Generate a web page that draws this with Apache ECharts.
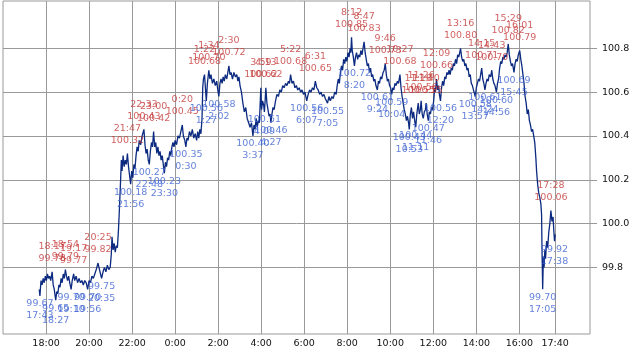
<!DOCTYPE html>
<html>
<head>
<meta charset="utf-8">
<script src="https://cdn.jsdelivr.net/npm/echarts@6/dist/echarts.min.js"></script>
<style>
  html, body { margin: 0; padding: 0; background: #fff; }
  #chart { width: 637px; height: 351px; }
</style>
</head>
<body>
<div id="chart"></div>
<script>
  // price ticks (time, price)
  var prices = [
    ['17:41', 99.70], ['17:43', 99.67], ['17:46', 99.74], ['17:49', 99.72], ['17:52', 99.75], ['17:55', 99.73],
    ['17:58', 99.76], ['18:01', 99.74], ['18:04', 99.77], ['18:07', 99.75], ['18:10', 99.76], ['18:13', 99.74],
    ['18:17', 99.78], ['18:20', 99.72], ['18:23', 99.70], ['18:27', 99.65], ['18:30', 99.69], ['18:33', 99.68],
    ['18:36', 99.72], ['18:39', 99.71], ['18:42', 99.75], ['18:45', 99.73], ['18:48', 99.77], ['18:51', 99.75],
    ['18:54', 99.79], ['18:57', 99.76], ['19:00', 99.74], ['19:03', 99.76], ['19:06', 99.73], ['19:10', 99.70],
    ['19:13', 99.74], ['19:17', 99.77], ['19:20', 99.74], ['19:24', 99.76], ['19:28', 99.73], ['19:32', 99.75],
    ['19:36', 99.73], ['19:40', 99.74], ['19:44', 99.72], ['19:48', 99.74], ['19:52', 99.73], ['19:56', 99.70],
    ['20:00', 99.74], ['20:04', 99.73], ['20:08', 99.76], ['20:12', 99.75], ['20:16', 99.77], ['20:20', 99.79],
    ['20:25', 99.82], ['20:29', 99.79], ['20:32', 99.77], ['20:35', 99.75], ['20:39', 99.78], ['20:43', 99.80],
    ['20:47', 99.78], ['20:51', 99.81], ['20:55', 99.79], ['20:59', 99.80], ['21:02', 99.86], ['21:04', 99.94],
    ['21:07', 99.88], ['21:10', 99.91], ['21:13', 99.87], ['21:16', 99.90], ['21:19', 99.89], ['21:22', 99.97],
    ['21:25', 100.08], ['21:28', 100.20], ['21:30', 100.29], ['21:32', 100.24], ['21:35', 100.31], ['21:38', 100.26],
    ['21:41', 100.29], ['21:44', 100.27], ['21:47', 100.32], ['21:50', 100.26], ['21:53', 100.22], ['21:56', 100.18],
    ['21:59', 100.24], ['22:02', 100.21], ['22:05', 100.27], ['22:08', 100.25], ['22:11', 100.31], ['22:14', 100.35],
    ['22:17', 100.33], ['22:20', 100.38], ['22:24', 100.36], ['22:28', 100.40], ['22:33', 100.43], ['22:36', 100.36],
    ['22:39', 100.32], ['22:42', 100.34], ['22:45', 100.29], ['22:48', 100.27], ['22:51', 100.33], ['22:54', 100.37],
    ['22:57', 100.35], ['23:00', 100.42], ['23:03', 100.35], ['23:06', 100.37], ['23:09', 100.32], ['23:12', 100.35],
    ['23:15', 100.31], ['23:18', 100.33], ['23:21', 100.29], ['23:24', 100.31], ['23:27', 100.27], ['23:30', 100.23],
    ['23:33', 100.28], ['23:36', 100.26], ['23:39', 100.30], ['23:42', 100.29], ['23:45', 100.33], ['23:48', 100.31],
    ['23:51', 100.35], ['23:54', 100.37], ['23:57', 100.35], ['0:00', 100.38], ['0:04', 100.36], ['0:08', 100.40],
    ['0:12', 100.39], ['0:16', 100.42], ['0:20', 100.45], ['0:23', 100.40], ['0:27', 100.38], ['0:30', 100.35],
    ['0:33', 100.39], ['0:36', 100.38], ['0:40', 100.42], ['0:44', 100.40], ['0:48', 100.43], ['0:52', 100.39],
    ['0:56', 100.41], ['1:00', 100.38], ['1:03', 100.42], ['1:06', 100.39], ['1:09', 100.43], ['1:12', 100.41],
    ['1:15', 100.48], ['1:17', 100.62], ['1:19', 100.66], ['1:22', 100.68], ['1:24', 100.63], ['1:27', 100.56],
    ['1:30', 100.64], ['1:34', 100.70], ['1:37', 100.66], ['1:40', 100.68], ['1:44', 100.64], ['1:48', 100.66],
    ['1:52', 100.63], ['1:56', 100.65], ['1:59', 100.61], ['2:02', 100.58], ['2:05', 100.64], ['2:08', 100.66],
    ['2:11', 100.64], ['2:14', 100.67], ['2:17', 100.65], ['2:20', 100.68], ['2:24', 100.66], ['2:27', 100.69],
    ['2:30', 100.72], ['2:33', 100.68], ['2:36', 100.69], ['2:40', 100.66], ['2:44', 100.69], ['2:48', 100.67],
    ['2:52', 100.68], ['2:55', 100.65], ['2:58', 100.67], ['3:01', 100.63], ['3:05', 100.60], ['3:09', 100.55],
    ['3:13', 100.51], ['3:17', 100.53], ['3:21', 100.48], ['3:25', 100.46], ['3:29', 100.44], ['3:33', 100.46],
    ['3:37', 100.40], ['3:40', 100.45], ['3:43', 100.43], ['3:46', 100.48], ['3:49', 100.44], ['3:52', 100.47],
    ['3:55', 100.46], ['3:59', 100.62], ['4:01', 100.52], ['4:04', 100.56], ['4:07', 100.54], ['4:09', 100.51],
    ['4:11', 100.56], ['4:13', 100.62], ['4:16', 100.55], ['4:19', 100.52], ['4:22', 100.49], ['4:25', 100.50],
    ['4:27', 100.46], ['4:30', 100.50], ['4:33', 100.53], ['4:36', 100.52], ['4:40', 100.56], ['4:44', 100.59],
    ['4:48', 100.58], ['4:52', 100.61], ['4:56', 100.60], ['5:00', 100.63], ['5:04', 100.62], ['5:08', 100.64],
    ['5:12', 100.63], ['5:16', 100.65], ['5:19', 100.64], ['5:22', 100.68], ['5:26', 100.64], ['5:30', 100.65],
    ['5:34', 100.62], ['5:38', 100.63], ['5:42', 100.61], ['5:46', 100.62], ['5:50', 100.60], ['5:54', 100.61],
    ['5:58', 100.59], ['6:02', 100.60], ['6:07', 100.56], ['6:11', 100.59], ['6:15', 100.61], ['6:19', 100.60],
    ['6:23', 100.62], ['6:27', 100.61], ['6:31', 100.65], ['6:35', 100.62], ['6:39', 100.61], ['6:43', 100.59],
    ['6:47', 100.60], ['6:51', 100.58], ['6:55', 100.59], ['6:59', 100.57], ['7:05', 100.55], ['7:09', 100.58],
    ['7:13', 100.56], ['7:17', 100.58], ['7:21', 100.57], ['7:25', 100.60], ['7:29', 100.59], ['7:32', 100.63],
    ['7:35', 100.66], ['7:38', 100.64], ['7:41', 100.69], ['7:44', 100.72], ['7:47', 100.70], ['7:50', 100.75],
    ['7:53', 100.73], ['7:56', 100.76], ['7:59', 100.74], ['8:02', 100.78], ['8:05', 100.76], ['8:08', 100.80],
    ['8:10', 100.78], ['8:12', 100.85], ['8:14', 100.79], ['8:17', 100.76], ['8:20', 100.72], ['8:23', 100.76],
    ['8:26', 100.78], ['8:29', 100.75], ['8:32', 100.77], ['8:35', 100.76], ['8:38', 100.79], ['8:41', 100.77],
    ['8:44', 100.80], ['8:47', 100.83], ['8:50', 100.78], ['8:53', 100.75], ['8:56', 100.72], ['8:59', 100.73],
    ['9:02', 100.69], ['9:05', 100.71], ['9:08', 100.67], ['9:11', 100.68], ['9:14', 100.65], ['9:17', 100.66],
    ['9:20', 100.63], ['9:24', 100.61], ['9:27', 100.65], ['9:30', 100.64], ['9:33', 100.67], ['9:36', 100.66],
    ['9:40', 100.69], ['9:43', 100.70], ['9:46', 100.73], ['9:49', 100.68], ['9:52', 100.65], ['9:55', 100.66],
    ['9:58', 100.63], ['10:01', 100.62], ['10:04', 100.59], ['10:07', 100.62], ['10:10', 100.61], ['10:13', 100.64],
    ['10:16', 100.63], ['10:20', 100.65], ['10:23', 100.64], ['10:27', 100.68], ['10:30', 100.62], ['10:33', 100.58],
    ['10:36', 100.55], ['10:39', 100.52], ['10:42', 100.50], ['10:45', 100.47], ['10:48', 100.49], ['10:51', 100.46],
    ['10:53', 100.43], ['10:56', 100.50], ['10:59', 100.53], ['11:02', 100.48], ['11:05', 100.51], ['11:08', 100.47],
    ['11:11', 100.44], ['11:14', 100.50], ['11:18', 100.55], ['11:21', 100.50], ['11:24', 100.52], ['11:26', 100.56],
    ['11:29', 100.50], ['11:32', 100.48], ['11:35', 100.51], ['11:38', 100.52], ['11:40', 100.55], ['11:43', 100.50],
    ['11:46', 100.47], ['11:49', 100.51], ['11:52', 100.50], ['11:55', 100.53], ['11:58', 100.52], ['12:01', 100.56],
    ['12:04', 100.62], ['12:06', 100.60], ['12:09', 100.66], ['12:12', 100.61], ['12:15', 100.63], ['12:17', 100.59],
    ['12:20', 100.56], ['12:23', 100.62], ['12:26', 100.65], ['12:29', 100.63], ['12:32', 100.67], ['12:35', 100.66],
    ['12:38', 100.69], ['12:41', 100.68], ['12:44', 100.70], ['12:47', 100.68], ['12:50', 100.71], ['12:53', 100.70],
    ['12:56', 100.73], ['12:59', 100.72], ['13:02', 100.75], ['13:05', 100.73], ['13:08', 100.77], ['13:11', 100.76],
    ['13:16', 100.80], ['13:19', 100.76], ['13:22', 100.74], ['13:25', 100.75], ['13:28', 100.72], ['13:31', 100.73],
    ['13:34', 100.70], ['13:37', 100.71], ['13:40', 100.67], ['13:43', 100.68], ['13:46', 100.64], ['13:49', 100.63],
    ['13:52', 100.61], ['13:57', 100.58], ['14:00', 100.62], ['14:03', 100.64], ['14:06', 100.66], ['14:09', 100.65],
    ['14:12', 100.68], ['14:15', 100.71], ['14:18', 100.66], ['14:21', 100.64], ['14:24', 100.61], ['14:27', 100.64],
    ['14:30', 100.66], ['14:33', 100.65], ['14:36', 100.68], ['14:40', 100.67], ['14:43', 100.70], ['14:46', 100.66],
    ['14:49', 100.64], ['14:52', 100.63], ['14:56', 100.60], ['14:59', 100.64], ['15:02', 100.66], ['15:05', 100.71],
    ['15:08', 100.74], ['15:11', 100.73], ['15:14', 100.76], ['15:17', 100.75], ['15:20', 100.77], ['15:23', 100.76],
    ['15:26', 100.78], ['15:29', 100.82], ['15:32', 100.77], ['15:35', 100.74], ['15:38', 100.72], ['15:41', 100.73],
    ['15:45', 100.69], ['15:48', 100.73], ['15:51', 100.75], ['15:54', 100.74], ['15:57', 100.77], ['16:01', 100.79],
    ['16:04', 100.75], ['16:07', 100.72], ['16:10', 100.68], ['16:13', 100.64], ['16:16', 100.58], ['16:19', 100.55],
    ['16:22', 100.50], ['16:25', 100.52], ['16:28', 100.47], ['16:31', 100.45], ['16:34', 100.42], ['16:37', 100.43],
    ['16:40', 100.40], ['16:43', 100.37], ['16:46', 100.30], ['16:48', 100.24], ['16:51', 100.18], ['16:54', 100.14],
    ['16:57', 100.12], ['17:00', 100.09], ['17:02', 100.04], ['17:03', 99.90], ['17:05', 99.70], ['17:07', 99.85],
    ['17:09', 99.80], ['17:11', 99.88], ['17:13', 99.84], ['17:16', 99.92], ['17:19', 99.89], ['17:22', 99.96],
    ['17:25', 100.00], ['17:28', 100.06], ['17:31', 100.01], ['17:34', 100.03], ['17:36', 99.97], ['17:38', 99.92],
    ['17:40', 99.95]
  ];

  // annotated local highs and lows (time, price)
  var highs = [
    ['18:17', 99.78], ['18:54', 99.79], ['19:17', 99.77], ['20:25', 99.82], ['21:47', 100.32], ['22:33', 100.43],
    ['23:00', 100.42], ['0:20', 100.45], ['1:22', 100.68], ['1:34', 100.70], ['2:30', 100.72], ['3:59', 100.62],
    ['4:13', 100.62], ['5:22', 100.68], ['6:31', 100.65], ['8:12', 100.85], ['8:47', 100.83], ['9:46', 100.73],
    ['10:27', 100.68], ['11:18', 100.55], ['11:26', 100.56], ['11:40', 100.55], ['12:09', 100.66], ['13:16', 100.80],
    ['14:15', 100.71], ['14:43', 100.70], ['15:29', 100.82], ['16:01', 100.79], ['17:28', 100.06]
  ];
  var lows = [
    ['17:43', 99.67], ['18:27', 99.65], ['19:10', 99.70], ['19:56', 99.70], ['20:35', 99.75], ['21:56', 100.18],
    ['22:48', 100.27], ['23:30', 100.23], ['0:30', 100.35], ['1:27', 100.56], ['2:02', 100.58], ['3:37', 100.40],
    ['4:09', 100.51], ['4:27', 100.46], ['6:07', 100.56], ['7:05', 100.55], ['8:20', 100.72], ['9:24', 100.61],
    ['10:04', 100.59], ['10:53', 100.43], ['11:11', 100.44], ['11:46', 100.47], ['12:20', 100.56], ['13:57', 100.58],
    ['14:24', 100.61], ['14:56', 100.60], ['15:45', 100.69], ['17:05', 99.70], ['17:38', 99.92]
  ];

  var xTicks = ['18:00', '20:00', '22:00', '0:00', '2:00', '4:00', '6:00', '8:00', '10:00', '12:00', '14:00', '16:00', '17:40'];
  var yTicks = [99.8, 100.0, 100.2, 100.4, 100.6, 100.8];

  // minutes since midnight of the first day; the session starts 17:41
  function toMinutes(s) {
    var p = s.split(':');
    var m = parseInt(p[0]) * 60 + parseInt(p[1]);
    return m < 17 * 60 + 41 ? m + 1440 : m;
  }
  function fmtTime(v) {
    var h = Math.floor(v / 60) % 24;
    var m = Math.round(v % 60);
    return h + ':' + (m < 10 ? '0' : '') + m;
  }

  var font = 'DejaVu Sans';
  var chart = echarts.init(document.getElementById('chart'));

  chart.setOption({
    animation: false,
    backgroundColor: '#fff',
    grid: { left: 3, right: 47, top: 1, bottom: 17, show: true, borderColor: '#999', borderWidth: 1 },
    xAxis: {
      type: 'value',
      min: 960,
      max: 2597,
      axisLine: { show: false },
      axisTick: { show: false, customValues: xTicks.map(toMinutes) },
      axisLabel: {
        customValues: xTicks.map(toMinutes),
        formatter: fmtTime,
        color: '#111', fontFamily: font, fontSize: 9.5, margin: 5
      },
      splitLine: { show: true, lineStyle: { color: '#999', width: 1 } }
    },
    yAxis: {
      type: 'value',
      position: 'right',
      min: 99.496,
      max: 101.016,
      axisLine: { show: false },
      axisTick: { show: true, customValues: yTicks, length: 7, lineStyle: { color: '#999' } },
      axisLabel: {
        customValues: yTicks,
        formatter: function (v) { return v.toFixed(1) },
        color: '#111', fontFamily: font, fontSize: 9.5, margin: 12
      },
      splitLine: { show: true, lineStyle: { color: '#999', width: 1 } }
    },
    series: [
      {
        type: 'line',
        data: prices.map(function (p) { return [toMinutes(p[0]), p[1]] }),
        symbol: 'none',
        lineStyle: { color: '#0b2a80', width: 1.3 },
        z: 2
      },
      {
        type: 'scatter',
        data: highs.map(function (h) { return { name: h[0], value: [toMinutes(h[0]), h[1]] } }),
        symbolSize: 0,
        z: 3,
        label: {
          show: true, position: 'top', distance: 7,
          formatter: function (p) { return p.name + '\n' + p.value[1].toFixed(2) },
          color: '#c43a3a', fontFamily: font, fontSize: 9.5, lineHeight: 12
        }
      },
      {
        type: 'scatter',
        data: lows.map(function (l) { return { name: l[0], value: [toMinutes(l[0]), l[1]] } }),
        symbolSize: 0,
        z: 3,
        label: {
          show: true, position: 'bottom', distance: 2,
          formatter: function (p) { return p.value[1].toFixed(2) + '\n' + p.name },
          color: '#3d63d1', fontFamily: font, fontSize: 9.5, lineHeight: 12
        }
      }
    ]
  });
</script>
</body>
</html>
